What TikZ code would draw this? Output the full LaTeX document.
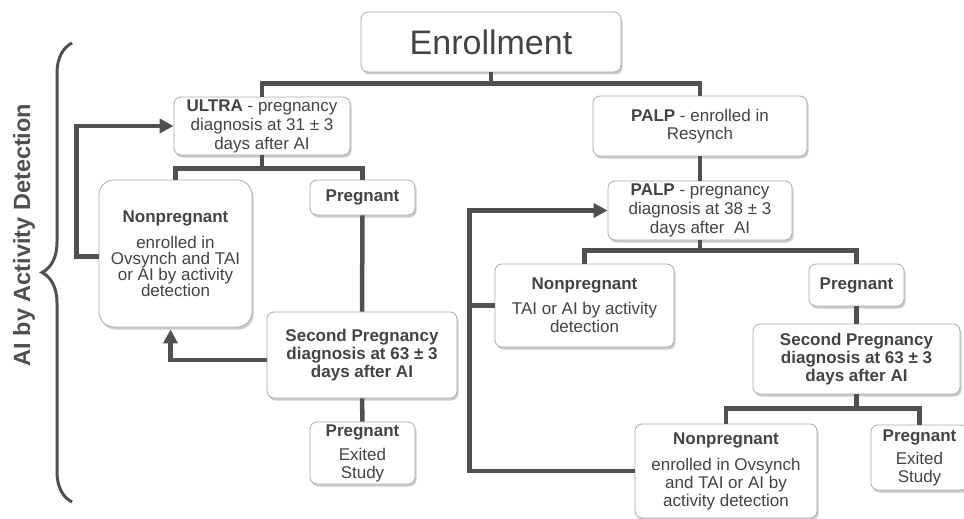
\documentclass[tikz,border=0pt]{standalone}
\usepackage{fontspec}
\setmainfont{Liberation Sans}
\usepackage{tikz}
\usetikzlibrary{
    arrows.meta,
    shadows,
    decorations.pathreplacing
}
\definecolor{linkgray}{HTML}{505050}
\definecolor{boxline}{HTML}{ABABAB}
\definecolor{txtgray}{HTML}{444444}
\tikzset{
    box/.style={draw=boxline, line width=0.8pt, rounded corners=7pt, fill=white,
        text=txtgray, align=center, inner sep=2pt,
        font=\fontsize{17pt}{18pt}\selectfont,
        drop shadow={shadow xshift=1.5pt, shadow yshift=-2.5pt, opacity=0.45, fill=black!45}},
    link/.style={draw=linkgray, line width=4.5pt},
    arr/.style={link, -{Triangle[length=14pt,width=14pt]}}
}

\begin{document}
\begin{tikzpicture}[x=1pt,y=-1pt]
\useasboundingbox (0,0) rectangle (964,519);

\node[box, minimum width=260pt, minimum height=60pt, font=\fontsize{34pt}{36pt}\selectfont] (enroll) at (491,42) {Enrollment};

\node[box, minimum width=176pt, minimum height=58pt, font=\fontsize{17pt}{19pt}\selectfont] (ultra) at (262,126)
    {\textbf{ULTRA} - pregnancy\\diagnosis at 31 ± 3\\days after AI};
\node[box, minimum width=214pt, minimum height=60pt] (palp) at (700,126)
    {\textbf{PALP} - enrolled in\\Resynch};
\node[box, minimum width=184pt, minimum height=59pt, font=\fontsize{17pt}{19pt}\selectfont] (palpdx) at (700,210.5)
    {\textbf{PALP} - pregnancy\\diagnosis at 38 ± 3\\days after\ \ AI};

\node[box, rounded corners=15pt, minimum width=153pt, minimum height=147pt, font=\fontsize{17pt}{16pt}\selectfont] (nonpregA) at (175.5,253.5)
    {\textbf{Nonpregnant}\\[10pt]enrolled in\\Ovsynch and TAI\\or AI by activity\\detection};
\node[box, minimum width=105pt, minimum height=35pt] (pregA) at (362.5,197.5) {\textbf{Pregnant}};
\node[box, minimum width=190pt, minimum height=86pt] (secondA) at (362,355)
    {\textbf{Second Pregnancy}\\\textbf{diagnosis at 63 ± 3}\\\textbf{days after AI}};
\node[box, minimum width=105pt, minimum height=62pt] (exitA) at (362.5,453)
    {\textbf{Pregnant}\\[6pt]Exited\\Study};

\node[box, minimum width=179pt, minimum height=83pt] (nonpregB) at (584.5,305.5)
    {\textbf{Nonpregnant}\\[7pt]TAI or AI by activity\\detection};
\node[box, minimum width=95pt, minimum height=42pt] (pregB) at (856.5,285) {\textbf{Pregnant}};
\node[box, minimum width=207pt, minimum height=70pt] (secondB) at (856.5,359)
    {\textbf{Second Pregnancy}\\\textbf{diagnosis at 63 ± 3}\\\textbf{days after AI}};
\node[box, minimum width=182pt, minimum height=94pt] (nonpregC) at (726,471)
    {\textbf{Nonpregnant}\\[8pt]enrolled in Ovsynch\\and TAI or AI by\\activity detection};
\node[box, minimum width=97pt, minimum height=65pt] (exitB) at (919.5,457.5)
    {\textbf{Pregnant}\\[5pt]Exited\\Study};

\draw[link] (enroll.south) -- ++(0,11) coordinate (j1) -| (ultra.north);
\draw[link] (j1) -| (palp.north);
\draw[link] (ultra.south) -- ++(0,13) coordinate (j2) -| (nonpregA.north);
\draw[link] (j2) -| (pregA.north);
\draw[link] (pregA.south) -- (secondA.north);
\draw[link] (secondA.south) -- (exitA.north);
\draw[arr] ([yshift=-5pt]secondA.west) -| ([xshift=-5pt,yshift=-2pt]nonpregA.south);
\draw[arr] ([yshift=-3pt]nonpregA.west) -- ++(-22,0) |- (ultra.west);

\draw[link] (palp.south) -- (palpdx.north);
\draw[link] (palpdx.south) -- ++(0,10) coordinate (j3) -| (nonpregB.north);
\draw[link] (j3) -| (pregB.north);
\draw[link] (pregB.south) -- (secondB.north);
\draw[link] (secondB.south) -- ++(0,14) coordinate (j4) -| (nonpregC.north);
\draw[link] (j4) -| (exitB.north);
\draw[arr] (nonpregC.west) -- ++(-165,0) coordinate (lp) |- (palpdx.west);
\draw[link] (nonpregB.west) -- (nonpregB.west -| lp);

\draw[linkgray, line width=3pt, decorate, decoration={brace, amplitude=30pt, aspect=0.5}] (72,502) -- (72,43);
\node[rotate=90, text=linkgray, font=\fontsize{23.5pt}{25pt}\selectfont\bfseries] (ailabel) at (24,235) {AI by Activity Detection};
\end{tikzpicture}
\end{document}
